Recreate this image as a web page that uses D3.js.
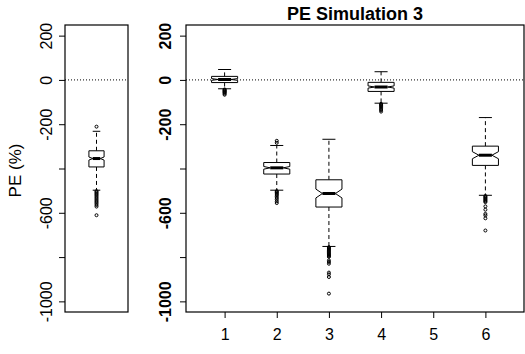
<!DOCTYPE html>
<html>
<head>
<meta charset="utf-8">
<script src="https://cdn.jsdelivr.net/npm/d3@7"></script>
<style>
  body { margin: 0; background: #fff; }
  text { font-family: "Liberation Sans", Arial, Helvetica, sans-serif; fill: #000; }
</style>
</head>
<body>
<svg id="chart" width="525" height="354"></svg>
<script>
// per-simulation boxes (values in PE %)
var groups = [1, 2, 3, 4, 5, 6];
var whiskerLow  = [-40, -498, -752, -105, null, -521];
var boxLow      = [-12, -425, -574, -52, null, -386];
var medians     = [2, -397, -513, -32, null, -340];
var boxHigh     = [16, -373, -451, -11, null, -299];
var whiskerHigh = [47, -296, -268, 37, null, -170];
var notchHalf   = [4, 6, 20, 5, null, 16];
var outliers = [
    [-43, -46, -49, -52, -55, -58, -62, -67],
    [-275, -284, -502, -506, -510, -515, -520, -526, -533, -540, -548, -556],
    [-755, -759, -763, -767, -771, -775, -779, -783, -787, -791, -795, -799, -815, -822, -830, -870, -878, -890, -965],
    [-108, -112, -116, -120, -125, -130, -136, -143],
    [],
    [-524, -528, -532, -536, -540, -544, -548, -552, -571, -586, -605, -612, -625, -680]
];

// pooled box (left panel)
var pooledStats = [-498, -393, -355, -320, -232];
var pooledNotch = 7;
var pooledOutliers = [-211, -502, -507, -512, -517, -522, -528, -534, -540, -546, -552, -558, -565, -572, -611];

var yTicks = [200, 0, -200, -400, -600, -800, -1000];
var yLabels = [200, 0, -200, -600, -1000];

var svg = d3.select("#chart");
var plotTop = 25, plotBottom = 312;

var y = d3.scaleLinear().domain([-1048, 248]).range([plotBottom, plotTop]);

// x scales for the two panels
var xl = d3.scaleLinear().domain([0.46, 1.54]).range([65, 128]);
var xm = d3.scaleLinear().domain([0.26, 6.74]).range([186, 524]);

function drawBox(g, cx, hw, s, notch, outs) {
    var wn = hw / 2;
    var pts = [
        [cx - hw, s[1]], [cx - hw, s[2] - notch], [cx - wn, s[2]], [cx - hw, s[2] + notch], [cx - hw, s[3]],
        [cx + hw, s[3]], [cx + hw, s[2] + notch], [cx + wn, s[2]], [cx + hw, s[2] - notch], [cx + hw, s[1]]
    ];
    // whiskers
    g.append("line").attr("x1", cx).attr("x2", cx).attr("y1", y(s[3])).attr("y2", y(s[4]))
        .attr("stroke", "#000").attr("stroke-dasharray", "4,3");
    g.append("line").attr("x1", cx).attr("x2", cx).attr("y1", y(s[1])).attr("y2", y(s[0]))
        .attr("stroke", "#000").attr("stroke-dasharray", "4,3");
    // caps
    [s[0], s[4]].forEach(function (v) {
        g.append("line").attr("x1", cx - hw / 2).attr("x2", cx + hw / 2)
            .attr("y1", y(v)).attr("y2", y(v)).attr("stroke", "#000");
    });
    g.append("polygon")
        .attr("points", pts.map(function (p) { return p[0] + "," + y(p[1]); }).join(" "))
        .attr("fill", "#fff").attr("stroke", "#000");
    // median
    g.append("line").attr("x1", cx - wn).attr("x2", cx + wn)
        .attr("y1", y(s[2])).attr("y2", y(s[2]))
        .attr("stroke", "#000").attr("stroke-width", 3);
    g.selectAll(null).data(outs).enter().append("circle")
        .attr("cx", cx).attr("cy", function (d) { return y(d); })
        .attr("r", 1.5).attr("fill", "none").attr("stroke", "#000").attr("stroke-width", 1);
}

function yAxis(x0, dist, bold) {
    var ax = d3.axisLeft(y).tickValues(yTicks).tickSize(6)
        .tickFormat(function (d) { return yLabels.indexOf(d) >= 0 ? d : ""; });
    var gy = svg.append("g").attr("transform", "translate(" + x0 + ",0)").call(ax);
    gy.select(".domain").remove();
    gy.selectAll(".tick line").attr("stroke", "#000");
    gy.selectAll(".tick text")
        .attr("transform", "rotate(-90)")
        .attr("x", 0).attr("y", -dist).attr("dy", 0)
        .attr("text-anchor", "middle")
        .attr("fill", "#000")
        .style("font-size", "16px")
        .style("font-weight", bold ? "bold" : "normal")
        .style("font-family", "Liberation Sans, Arial, sans-serif");
}

// ----- left panel
var gl = svg.append("g");
gl.append("line").attr("x1", xl(0.46)).attr("x2", xl(1.54)).attr("y1", y(0)).attr("y2", y(0))
    .attr("stroke", "#000").attr("stroke-dasharray", "1,2");
drawBox(gl, xl(1), (xl(1.13) - xl(0.87)) / 2, pooledStats, pooledNotch, pooledOutliers);
gl.append("rect").attr("x", 65).attr("y", plotTop).attr("width", 63).attr("height", plotBottom - plotTop)
    .attr("fill", "none").attr("stroke", "#000").attr("stroke-width", 1.2);
yAxis(65, 13.5, false);

svg.append("text")
    .attr("transform", "translate(21," + ((plotTop + plotBottom) / 2 + 2) + ") rotate(-90)")
    .attr("text-anchor", "middle")
    .style("font-size", "17px")
    .text("PE (%)");

// ----- main panel
var gm = svg.append("g");
gm.append("line").attr("x1", xm(0.26)).attr("x2", xm(6.74)).attr("y1", y(0)).attr("y2", y(0))
    .attr("stroke", "#000").attr("stroke-dasharray", "1,2");
groups.forEach(function (k, i) {
    if (medians[i] === null) return;
    var s = [whiskerLow[i], boxLow[i], medians[i], boxHigh[i], whiskerHigh[i]];
    drawBox(gm, xm(k), (xm(1.25) - xm(0.75)) / 2, s, notchHalf[i], outliers[i]);
});
gm.append("rect").attr("x", 186).attr("y", plotTop).attr("width", 524 - 186).attr("height", plotBottom - plotTop)
    .attr("fill", "none").attr("stroke", "#000").attr("stroke-width", 1.2);
yAxis(186, 15, true);

var gx = svg.append("g").attr("transform", "translate(0," + plotBottom + ")")
    .call(d3.axisBottom(xm).tickValues(groups).tickSize(6).tickFormat(d3.format("d")));
gx.select(".domain").remove();
gx.selectAll(".tick line").attr("stroke", "#000");
gx.selectAll(".tick text").attr("y", 28).attr("dy", 0)
    .attr("fill", "#000")
    .style("font-size", "16px")
    .style("font-family", "Liberation Sans, Arial, sans-serif");

svg.append("text")
    .attr("x", (186 + 524) / 2).attr("y", 20)
    .attr("text-anchor", "middle")
    .style("font-size", "18px").style("font-weight", "bold")
    .text("PE Simulation 3");
</script>
</body>
</html>
